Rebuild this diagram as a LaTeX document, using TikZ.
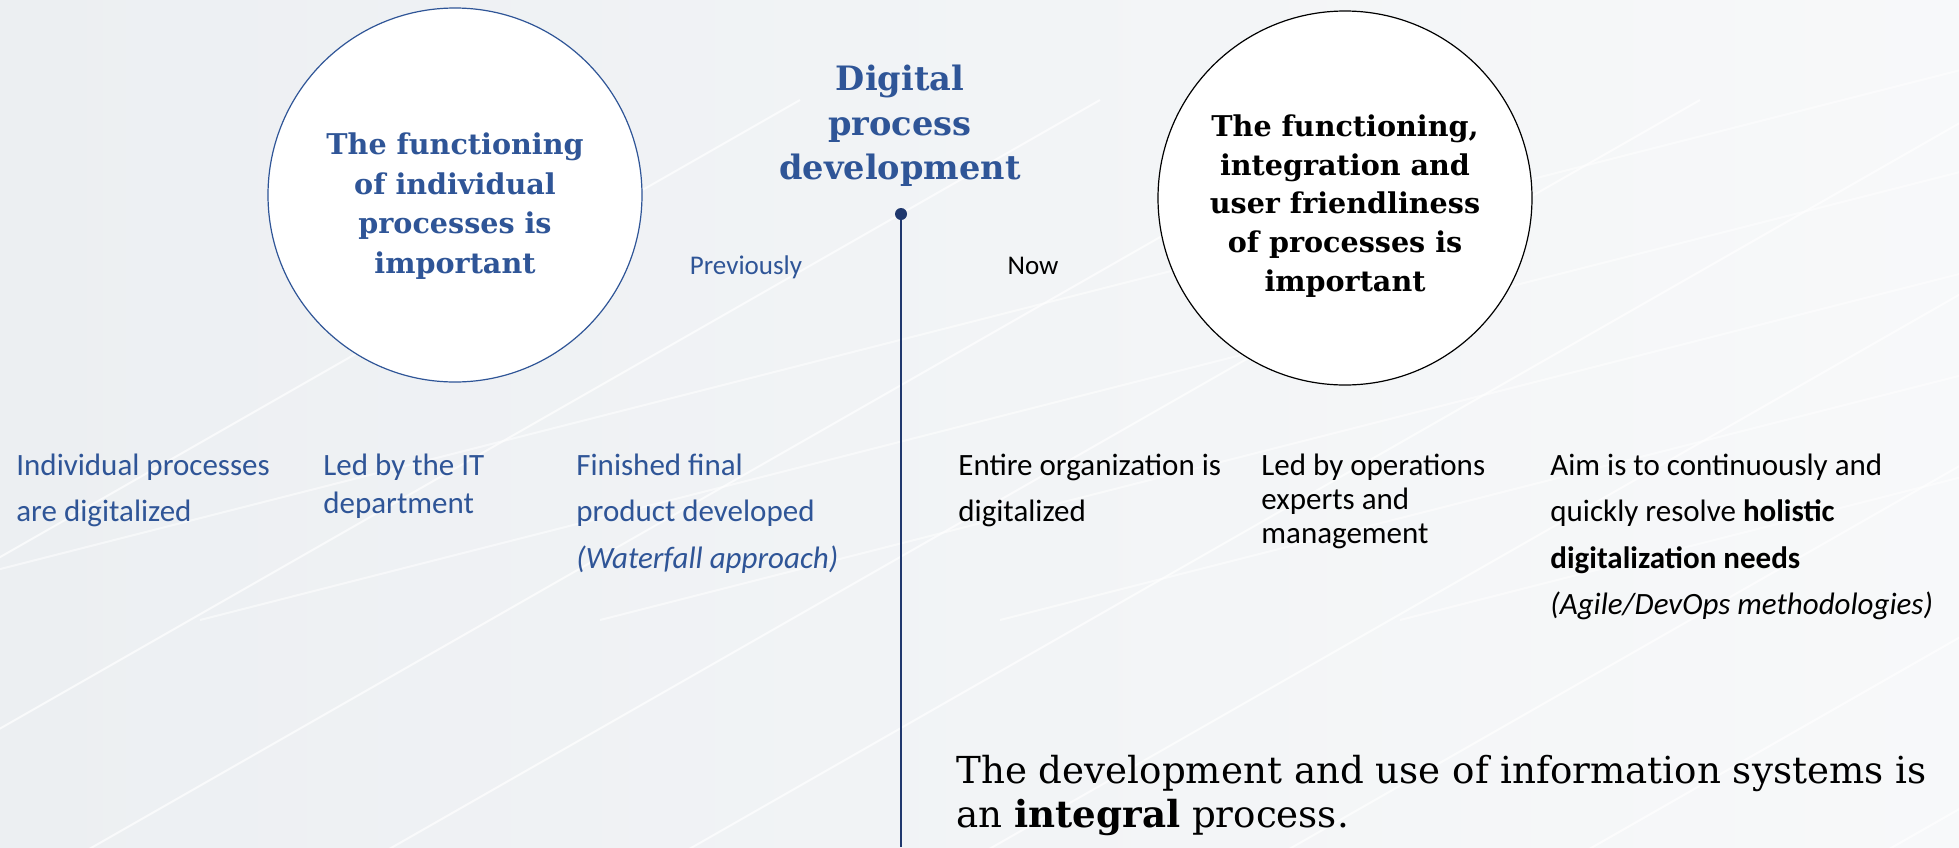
\documentclass[tikz,border=0pt]{standalone}
\usepackage{fontspec}
\setmainfont{DejaVu Serif}
\newfontfamily\calfont{Carlito}
\definecolor{txtblue}{RGB}{47,85,151}
\definecolor{navy}{RGB}{32,56,110}
\definecolor{bgc}{RGB}{236,239,242}
\newcommand\mystrut{\rule{0pt}{13pt}}
\newcommand\bigstrut{\rule{0pt}{15pt}}
\tikzset{
  bodytxt/.style={font=\calfont\fontsize{15.5}{23.25}\selectfont, anchor=north west, inner sep=0pt, align=left},
  prevtxt/.style={bodytxt, text=txtblue},
  nowtxt/.style={bodytxt, text=black},
  bigcircle/.style={circle, minimum size=187pt, inner sep=0pt, fill=white, line width=0.6pt},
  circtxt/.style={font=\bfseries\fontsize{14.3}{19.8}\selectfont, align=center, inner sep=0pt},
  bgline/.style={white, opacity=0.7, line width=1pt},
}
\begin{document}
\begin{tikzpicture}[x=0.5pt,y=-0.5pt]
\useasboundingbox (0,0) rectangle (1959,847);
\shade[left color=bgc, right color=bgc!40!white] (0,0) rectangle (1959,847);
% faint background texture
\begin{scope}
\clip (0,0) rectangle (1959,847);
\foreach \s in {-600,-300,0,300,600,900,1200,1500,1800,2100}{
  \draw[bgline] (\s,900) -- ++(1400,-800);
}
\foreach \s in {-200,200,600,1000,1400}{
  \draw[white, opacity=0.55, line width=1pt] (\s,620) -- ++(2200,-560);
}
\end{scope}

% circles
\node[bigcircle, draw=txtblue] (lc) at (455,195) {};
\node[circtxt, text=txtblue] (lct) at (455,206) {The functioning\\of individual\\processes is\\important};
\node[bigcircle, draw=black] (rc) at (1345,198) {};
\node[circtxt, text=black, font=\bfseries\fontsize{14.3}{19.3}\selectfont] (rct) at (1345,206) {The functioning,\\integration and\\user friendliness\\of processes is\\important};

% title and axis
\node[font=\bfseries\fontsize{16.8}{22.2}\selectfont, text=txtblue, align=center, inner sep=0pt] (title) at (900,126) {Digital\\process\\development};
\node[circle, fill=navy, minimum size=6pt, inner sep=0pt] (dot) at (901,214) {};
\coordinate (axisend) at (901,847);
\draw[navy, line width=0.8pt] (dot.center) -- (axisend);

\node[font=\calfont\fontsize{13.5}{16}\selectfont, text=txtblue, anchor=base, inner sep=0pt] (prev) at (746,274) {Previously};
\node[font=\calfont\fontsize{13.5}{16}\selectfont, text=black, anchor=base, inner sep=0pt] (now) at (1033,274) {Now};

% previously items
\node[prevtxt] (p1) at (16,449) {\mystrut Individual processes\\are digitalized};
\node[prevtxt, font=\calfont\fontsize{15.5}{19}\selectfont] (p2) at (323,449) {\mystrut Led by the IT\\department};
\node[prevtxt] (p3) at (576,449) {\mystrut Finished final\\product developed\\\textit{(Waterfall approach)}};

% now items
\node[nowtxt] (n1) at (958,449) {\mystrut Entire organization is\\digitalized};
\node[nowtxt, font=\calfont\fontsize{15.5}{17}\selectfont] (n2) at (1261,449) {\mystrut Led by operations\\experts and\\management};
\node[nowtxt] (n3) at (1550,449) {\mystrut Aim is to continuously and\\quickly resolve \textbf{holistic}\\\textbf{digitalization needs}\\\textit{(Agile/DevOps methodologies)}};

% conclusion
\node[font=\fontsize{18.6}{22}\selectfont, text=black, anchor=north west, inner sep=0pt, align=left] (concl) at (956,753) {\bigstrut The development and use of information systems is\\an \textbf{integral} process.};
\end{tikzpicture}
\end{document}
